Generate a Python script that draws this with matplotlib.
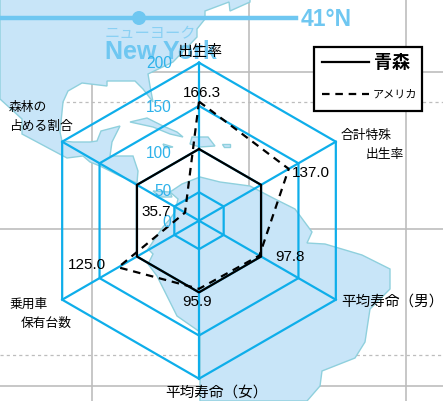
import numpy as np
import matplotlib
matplotlib.use("Agg")
import matplotlib.pyplot as plt
from matplotlib.patches import Polygon, Circle, Rectangle

plt.rcParams["font.family"] = ["Noto Sans CJK JP", "DejaVu Sans"]

W, H = 443, 402
BLUE = "#0eaeea"
SKY = "#6fc7f1"
LAND = "#c8e5f8"
COAST = "#8fd0dd"
GREY = "#bdbdbd"

# chart values
axis_labels = ["出生率", "合計特殊\n出生率", "平均寿命（男）", "平均寿命（女）", "乗用車\n保有台数", "森林の\n占める割合"]
ring_values = [50, 100, 150, 200]
aomori = [100, 100, 100, 100, 100, 100]
usa_labels = [166.3, 137.0, 97.8, 95.9, 125.0, 35.7]
# the top point sits lower in the picture than its label says
usa_drawn = [155, 137.0, 97.8, 95.9, 125.0, 35.7]

# background map, traced in pixels
north = [(0, 0), (250, 0), (250, 3), (230, 12), (229, 3), (205, 12), (205, 20), (197, 30), (197, 38), (173, 63),
         (148, 75), (150, 87), (153, 103), (143, 90), (135, 82), (120, 82), (107, 82), (107, 87), (82, 84), (68, 92),
         (63, 103), (62, 113), (60, 133), (62, 142), (73, 143), (90, 143), (97, 142), (101, 132), (120, 127),
         (112, 143), (110, 157), (133, 157), (138, 172), (137, 184), (120, 177),
         (100, 167), (90, 163), (83, 157), (67, 159), (22, 135), (22, 120), (0, 100)]
south = [(170, 193), (182, 185), (200, 178), (220, 183), (250, 187), (275, 200), (295, 210), (312, 233), (307, 244),
         (325, 245), (362, 256), (390, 270), (390, 290), (370, 310), (365, 343), (355, 359), (322, 372), (320, 387),
         (307, 402), (200, 402), (200, 333), (177, 317), (167, 297), (157, 277), (148, 265), (153, 255), (148, 250),
         (163, 228), (170, 220), (175, 213), (178, 200)]
islands = [[(130, 123), (147, 119), (163, 127), (177, 133), (183, 138), (170, 135), (153, 128)],
           [(192, 138), (208, 138), (215, 147), (200, 148), (190, 145)],
           [(222, 145), (230, 145), (230, 148), (224, 148)],
           [(163, 145), (173, 148), (165, 149)],
           [(153, 192), (170, 193), (172, 198), (160, 198)]]

fig = plt.figure(figsize=(W / 100, H / 100), dpi=100)

bg = fig.add_axes([0, 0, 1, 1], zorder=0)
bg.set_xlim(0, W)
bg.set_ylim(H, 0)
bg.axis("off")

for x, y0, y1 in [(92, 85, 402), (249, 0, 200), (406, 0, 402)]:
    bg.plot([x, x], [y0, y1], color=GREY, lw=1.2)
for y, x0, x1 in [(73, 150, 443), (230, 0, 443), (387, 0, 443)]:
    bg.plot([x0, x1], [y, y], color=GREY, lw=1.2)
for y, x0, x1 in [(103, 60, 443), (356, 0, 443)]:
    bg.plot([x0, x1], [y, y], color=GREY, lw=0.9, ls=(0, (2.5, 2.5)))

for shape in [north, south] + islands:
    bg.add_patch(Polygon(shape, closed=True, fc=LAND, ec=COAST, lw=1, zorder=3))

bg.plot([0, 296], [19, 19], color=SKY, lw=3.2, zorder=4)
bg.add_patch(Circle((139, 19), 7, fc=SKY, ec="none", zorder=4))
bg.text(301, 19, "41°N", color=SKY, fontsize=16.5, fontweight="bold", family="Liberation Sans",
        va="center", zorder=5)
bg.text(105, 34, "ニューヨーク", color="#8ad0f3", fontsize=11, va="center", zorder=5)
bg.text(105, 52, "New York", color=SKY, fontsize=18, fontweight="bold", family="Liberation Sans",
        va="center", zorder=5)

# radar on a polar axes
R = 158
ax = fig.add_axes([(199 - R) / W, 1 - (221.7 + R) / H, 2 * R / W, 2 * R / H], projection="polar", zorder=1)
ax.set_theta_offset(np.pi / 2)
ax.set_theta_direction(-1)
ax.set_ylim(17, 200)
ax.axis("off")

theta = np.deg2rad(np.arange(0, 360, 60))
closed = np.append(theta, 2 * np.pi)

for t in theta:
    ax.plot([t, t], [17, 200], color=BLUE, lw=1.6, clip_on=False)
for v in ring_values:
    ax.plot(closed, [v] * 7, color=BLUE, lw=1.6, clip_on=False)

ax.plot(closed, aomori + aomori[:1], color="black", lw=1.6, clip_on=False)
ax.plot(closed, usa_drawn + usa_drawn[:1], color="black", lw=1.6, ls=(0, (3.4, 2.6)), clip_on=False)

# labels and legend above everything
fg = fig.add_axes([0, 0, 1, 1], zorder=2)
fg.set_xlim(0, W)
fg.set_ylim(H, 0)
fg.axis("off")

tick_pos = [(167, 223), (163, 192), (159, 154), (159, 108), (159, 63)]
for s, (x, y) in zip(["0", "50", "100", "150", "200"], tick_pos):
    fg.text(x, y, s, color="#2db2ea", fontsize=11.2, family="Liberation Sans", ha="center", va="center")

usa_pos = [(202, 93), (311, 173), (290, 257), (197, 302), (87, 265), (156, 212)]
for v, (x, y) in zip(usa_labels, usa_pos):
    fg.text(x, y, f"{v:.1f}", color="black", fontsize=11, family="Liberation Sans", ha="center", va="center")

fg.text(200, 52, axis_labels[0], fontsize=10.8, ha="center", va="center")
fg.text(341, 136, axis_labels[1].split("\n")[0], fontsize=9.2, va="center")
fg.text(404, 155, axis_labels[1].split("\n")[1], fontsize=9.2, ha="right", va="center")
fg.text(341, 302, axis_labels[2], fontsize=10.5, va="center")
fg.text(165, 393, axis_labels[3], fontsize=10.5, va="center")
fg.text(9, 304, axis_labels[4].split("\n")[0], fontsize=9.2, va="center")
fg.text(72, 323, axis_labels[4].split("\n")[1], fontsize=9.2, ha="right", va="center")
fg.text(9, 107, axis_labels[5].split("\n")[0], fontsize=9.2, va="center")
fg.text(9, 126, axis_labels[5].split("\n")[1], fontsize=9.2, va="center")

fg.add_patch(Rectangle((314, 48), 108, 64, fc="white", ec="black", lw=1.6))
fg.plot([322, 369], [63, 63], color="black", lw=1.6)
fg.plot([322, 369], [95, 95], color="black", lw=1.6, ls=(0, (3.4, 2.6)))
fg.text(374, 63, "青森", fontsize=13, fontweight="bold", va="center")
fg.text(373, 95, "アメリカ", fontsize=8, va="center")

fig.savefig("out.png", dpi=100)
